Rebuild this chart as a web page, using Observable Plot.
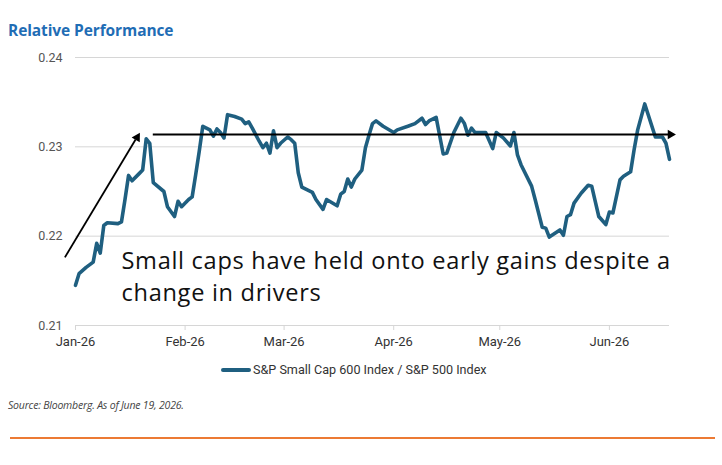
<!DOCTYPE html>
<html>
<head>
<meta charset="utf-8">
<script src="https://cdn.jsdelivr.net/npm/d3@7"></script>
<script src="https://cdn.jsdelivr.net/npm/@observablehq/plot@0.6"></script>
<style>
  body { margin: 0; background: #fff; }
  #wrap { position: relative; width: 722px; height: 465px; overflow: hidden; font-family: "Open Sans", sans-serif; }
  #title { position: absolute; left: 8px; top: 20px; font: bold 15.5px/20px "Open Sans", sans-serif; color: #1f6db5; letter-spacing: -0.1px; }
  #chart { position: absolute; left: 0; top: 45px; }
  #chart g[aria-label="text"] text { letter-spacing: 0.7px; }
  #legend { position: absolute; left: 221px; top: 361px; font: 12.6px/18px Roboto, sans-serif; color: #333; display: flex; align-items: center; }
  #legend .swatch { display: inline-block; width: 30px; height: 4px; border-radius: 2px; background: #1f5f80; margin-right: 2px; }
  #source { position: absolute; left: 8px; top: 398px; font: italic 10.5px/14px "Open Sans", sans-serif; color: #444; letter-spacing: -0.2px; }
  #rule { position: absolute; left: 10px; top: 437px; width: 705px; height: 2px; background: #ec7a34; }
</style>
</head>
<body>
<div id="wrap">
  <div id="title">Relative Performance</div>
  <div id="chart"></div>
  <div id="legend"><span class="swatch"></span><span id="legendLabel"></span></div>
  <div id="source"></div>
  <div id="rule"></div>
</div>
<script>
// Daily ratio: S&P SmallCap 600 Index / S&P 500 Index
const dates = [
  "2026-01-01","2026-01-02","2026-01-04","2026-01-06","2026-01-07","2026-01-08","2026-01-09","2026-01-10",
  "2026-01-13","2026-01-14","2026-01-15","2026-01-16","2026-01-17","2026-01-19","2026-01-20","2026-01-21",
  "2026-01-22","2026-01-23","2026-01-26","2026-01-27","2026-01-29","2026-01-30","2026-01-31","2026-02-02",
  "2026-02-03","2026-02-04","2026-02-05","2026-02-06","2026-02-08","2026-02-09","2026-02-10","2026-02-11",
  "2026-02-12","2026-02-13","2026-02-15","2026-02-17","2026-02-18","2026-02-19","2026-02-20","2026-02-22",
  "2026-02-23","2026-02-24","2026-02-25","2026-02-26","2026-02-27","2026-02-28","2026-03-02","2026-03-03",
  "2026-03-04","2026-03-05","2026-03-06","2026-03-08","2026-03-09","2026-03-10","2026-03-12","2026-03-13",
  "2026-03-16","2026-03-17","2026-03-18","2026-03-19","2026-03-20","2026-03-21","2026-03-23","2026-03-24",
  "2026-03-25","2026-03-26","2026-03-27","2026-03-29","2026-04-01","2026-04-02","2026-04-05","2026-04-07",
  "2026-04-09","2026-04-10","2026-04-11","2026-04-13","2026-04-15","2026-04-16","2026-04-18","2026-04-20",
  "2026-04-21","2026-04-22","2026-04-23","2026-04-24","2026-04-27","2026-04-29","2026-04-30","2026-05-02",
  "2026-05-04","2026-05-05","2026-05-06","2026-05-07","2026-05-10","2026-05-11","2026-05-13","2026-05-14",
  "2026-05-15","2026-05-18","2026-05-19","2026-05-20","2026-05-21","2026-05-22","2026-05-24","2026-05-26",
  "2026-05-27","2026-05-28","2026-05-29","2026-05-31","2026-06-01","2026-06-02","2026-06-04","2026-06-05",
  "2026-06-07","2026-06-08","2026-06-09","2026-06-11","2026-06-14","2026-06-16","2026-06-17","2026-06-18"
];
const ratio = [
  0.2145,0.2158,0.2165,0.2171,0.2192,0.2181,0.2212,0.2215,
  0.2214,0.2216,0.2241,0.2268,0.2262,0.2270,0.2274,0.2309,
  0.2304,0.2260,0.2250,0.2233,0.2222,0.2239,0.2233,0.2241,
  0.2244,0.2269,0.2295,0.2323,0.2319,0.2312,0.2320,0.2316,
  0.2310,0.2336,0.2334,0.2331,0.2326,0.2328,0.2321,0.2306,
  0.2299,0.2304,0.2293,0.2318,0.2299,0.2304,0.2311,0.2308,
  0.2304,0.2271,0.2255,0.2251,0.2249,0.2241,0.2230,0.2241,
  0.2234,0.2247,0.2250,0.2264,0.2255,0.2264,0.2274,0.2299,
  0.2313,0.2326,0.2329,0.2323,0.2316,0.2319,0.2323,0.2326,
  0.2332,0.2325,0.2329,0.2333,0.2292,0.2293,0.2316,0.2332,
  0.2326,0.2313,0.2321,0.2316,0.2316,0.2298,0.2316,0.2310,
  0.2301,0.2316,0.2291,0.2280,0.2256,0.2241,0.2210,0.2209,
  0.2199,0.2207,0.2201,0.2222,0.2224,0.2237,0.2248,0.2257,
  0.2256,0.2239,0.2222,0.2213,0.2227,0.2226,0.2263,0.2267,
  0.2272,0.2297,0.2319,0.2348,0.2311,0.2311,0.2304,0.2286
];

const yTicks = [0.21, 0.22, 0.23, 0.24];
const monthTicks = ["2026-01-01","2026-02-01","2026-03-01","2026-04-01","2026-05-01","2026-06-01"];
const seriesName = "S&P Small Cap 600 Index / S&P 500 Index";
const noteLines = ["Small caps have held onto early gains despite a", "change in drivers"];
const sourceNote = "Source:  Bloomberg. As of June 19, 2026.";

const parse = d3.utcParse("%Y-%m-%d");
const series = dates.map((d, i) => ({date: parse(d), value: ratio[i]}));

const lineColor = "#1f5f80";

// trend arrow rising into late January, then the flat "held gains" level
const rise = {x1: parse("2025-12-29"), y1: 0.21763, x2: parse("2026-01-18"), y2: 0.23082};
const level = {x1: parse("2026-01-23"), x2: parse("2026-06-18"), y: 0.23138};

const chart = Plot.plot({
  width: 722,
  height: 305,
  marginLeft: 75,
  marginRight: 53,
  marginTop: 12,
  marginBottom: 25,
  style: {fontFamily: "Roboto, sans-serif", fontSize: "12px", background: "#fff", overflow: "visible"},
  x: {type: "utc", domain: [parse("2026-01-01"), parse("2026-06-18")]},
  y: {domain: [0.21, 0.24]},
  marks: [
    Plot.ruleY(yTicks, {stroke: "#d6d6d6", strokeWidth: 1}),
    Plot.axisY({ticks: yTicks, tickFormat: d3.format(".2f"), tickSize: 0, tickPadding: 13, fill: "#555", fontSize: 12.5, label: null}),
    Plot.axisX({ticks: monthTicks.map(parse), tickFormat: d3.utcFormat("%b-%y"), tickSize: 5, tickPadding: 6, stroke: "#d6d6d6", fill: "#333", fontSize: 13, label: null}),
    Plot.line(series, {x: "date", y: "value", stroke: lineColor, strokeWidth: 3.6, strokeLinejoin: "round", strokeLinecap: "round"}),
    Plot.link([rise], {x1: "x1", y1: "y1", x2: "x2", y2: "y2", stroke: "#000", strokeWidth: 1.8}),
    Plot.dot([rise], {x: "x2", y: "y2", symbol: "triangle2", r: 4.5, fill: "#000", rotate: 31, dx: 1.5, dy: -2}),
    Plot.ruleY([level], {x1: "x1", x2: "x2", y: "y", stroke: "#000", strokeWidth: 1.8}),
    Plot.dot([level], {x: "x2", y: "y", symbol: "triangle2", r: 4.5, fill: "#000", rotate: 90, dx: 1}),
    Plot.text([noteLines.join("\n")], {
      x: parse("2026-01-14"), y: 0.21885, text: d => d,
      textAnchor: "start", lineAnchor: "top", lineHeight: 1.36,
      fontFamily: "'Segoe Print', 'Open Sans', sans-serif", fontSize: 23.6, fill: "#111"
    })
  ]
});

document.getElementById("chart").append(chart);
document.getElementById("legendLabel").textContent = seriesName;
document.getElementById("source").textContent = sourceNote;
</script>
</body>
</html>
